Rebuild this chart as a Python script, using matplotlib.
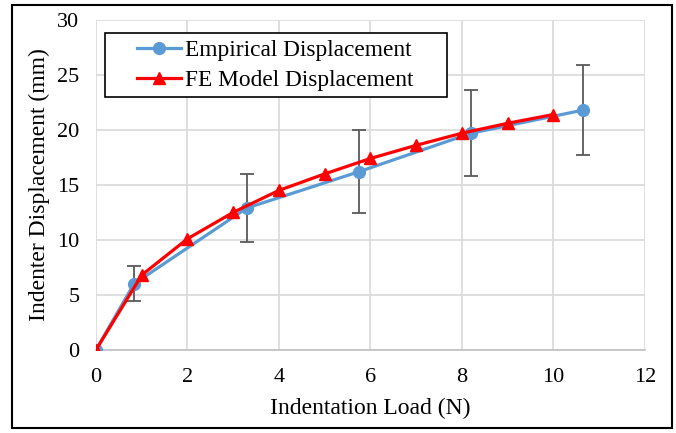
import matplotlib.pyplot as plt
from matplotlib.patches import Rectangle

# measured indentation data
emp_load = [0, 0.83, 3.3, 5.75, 8.2, 10.65]
emp_disp = [0, 6.0, 12.9, 16.2, 19.7, 21.8]
emp_err = [0, 1.6, 3.1, 3.8, 3.9, 4.1]

# finite element model
fe_load = [0, 1, 2, 3, 4, 5, 6, 7, 8, 9, 10]
fe_disp = [0, 6.8, 10.1, 12.5, 14.5, 16.0, 17.4, 18.6, 19.7, 20.6, 21.4]

plt.rcParams['font.family'] = ['Liberation Serif', 'DejaVu Serif']

W, H = 676, 433
fig = plt.figure(figsize=(W / 100, H / 100), dpi=100)
ax = fig.add_axes([0.142, 0.192, 0.812, 0.762])

ax.errorbar(emp_load, emp_disp, yerr=emp_err, fmt='none', ecolor='#595959',
            elinewidth=1.3, capsize=5, capthick=1.3, zorder=2)
ax.plot(emp_load, emp_disp, color='#5B9BD5', lw=2.3, marker='o', ms=8.5,
        label='Empirical Displacement', zorder=3)
ax.plot(fe_load, fe_disp, color='#FF0000', lw=2.3, marker='^', ms=8.5,
        label='FE Model Displacement', zorder=4)

ax.set_xlim(0, 12)
ax.set_ylim(0, 30)
ax.set_xticks(range(0, 13, 2))
ax.set_yticks(range(0, 31, 5))
ax.grid(True, color='#D9D9D9', lw=1.2)
ax.set_axisbelow(True)
for s in ['top', 'right', 'left']:
    ax.spines[s].set_visible(False)
ax.spines['bottom'].set_color('#BFBFBF')
ax.spines['bottom'].set_linewidth(1.2)
ax.tick_params(length=0, labelsize=16)
ax.tick_params(axis='x', pad=13)
ax.tick_params(axis='y', pad=12)

ax.set_xlabel('Indentation Load (N)', fontsize=17, labelpad=8)
ax.set_ylabel('Indenter Displacement (mm)', fontsize=17, labelpad=5)

# legend box, then the entries on top of it
fig.patches.append(Rectangle((105 / W, 1 - 97 / H), 342 / W, 64 / H,
                             transform=fig.transFigure, facecolor='white',
                             edgecolor='black', lw=1.2, zorder=4))
handles, labels = ax.get_legend_handles_labels()
leg = fig.legend(handles, labels, loc='upper left',
                 bbox_to_anchor=(137 / W, 1 - 40 / H), fontsize=16.8,
                 frameon=False, handlelength=1.9, borderpad=0, borderaxespad=0,
                 labelspacing=0.36, handletextpad=0.15)
leg.set_zorder(5)

# chart border
fig.patches.append(Rectangle((12 / W, 5 / H), 660 / W, 423 / H,
                             transform=fig.transFigure, fill=False,
                             edgecolor='black', lw=1.5))

fig.savefig('out.png', dpi=100)
